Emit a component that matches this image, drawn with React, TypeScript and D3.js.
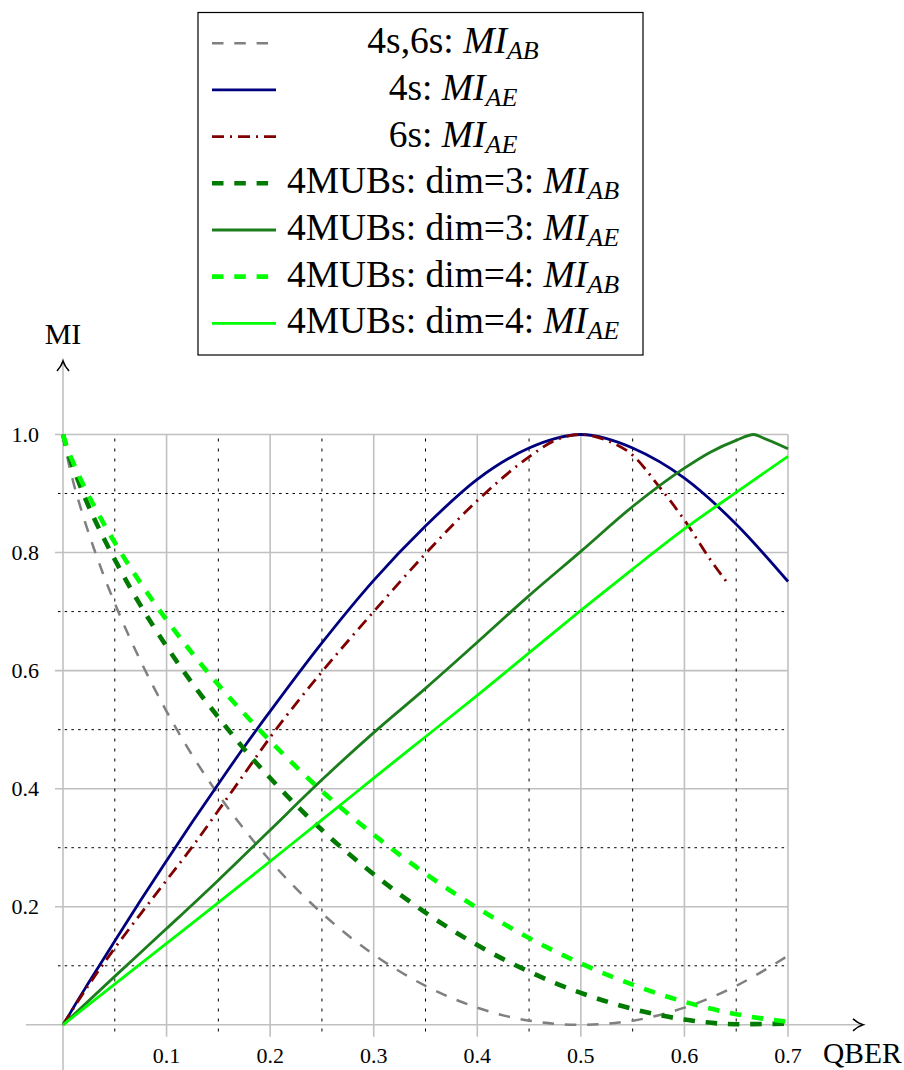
import React from 'react';
import * as d3 from 'd3';

// ---- ticks ----
const qberTicks = [0.1, 0.2, 0.3, 0.4, 0.5, 0.6, 0.7];
const miTicks = [0.2, 0.4, 0.6, 0.8, 1.0];
const qberMinor = [0.05, 0.15, 0.25, 0.35, 0.45, 0.55, 0.65];
const miMinor = [0.1, 0.3, 0.5, 0.7, 0.9];

// ---- series data ----
const qAB = [0, 0.005, 0.01, 0.02, 0.03, 0.04, 0.05, 0.075, 0.1, 0.125, 0.15, 0.175, 0.2, 0.25, 0.3, 0.35, 0.4, 0.45, 0.5, 0.55, 0.6, 0.65, 0.7];
const mi4s6sAB = [1, 0.955, 0.919, 0.859, 0.806, 0.758, 0.714, 0.616, 0.531, 0.456, 0.39, 0.331, 0.278, 0.189, 0.119, 0.066, 0.029, 0.007, 0, 0.007, 0.029, 0.066, 0.117];
const miMub3AB = [1, 0.968, 0.943, 0.898, 0.858, 0.822, 0.788, 0.71, 0.641, 0.578, 0.521, 0.467, 0.418, 0.33, 0.255, 0.19, 0.135, 0.09, 0.054, 0.027, 0.009, 0.001, 0.002];
const miMub4AB = [1, 0.973, 0.952, 0.913, 0.879, 0.847, 0.817, 0.748, 0.686, 0.629, 0.576, 0.527, 0.481, 0.396, 0.322, 0.256, 0.198, 0.147, 0.104, 0.068, 0.039, 0.018, 0.005];

const q4sAE = [0, 0.005, 0.01, 0.025, 0.05, 0.075, 0.1, 0.125, 0.15, 0.175, 0.2, 0.25, 0.3, 0.35, 0.4, 0.45, 0.475, 0.5, 0.525, 0.55, 0.6, 0.65, 0.7];
const mi4sAE = [0, 0.014, 0.029, 0.072, 0.142, 0.211, 0.278, 0.344, 0.408, 0.471, 0.531, 0.647, 0.753, 0.845, 0.924, 0.977, 0.993, 1, 0.993, 0.977, 0.926, 0.848, 0.751];

const q6sAE = [0, 0.025, 0.05, 0.075, 0.1, 0.125, 0.15, 0.175, 0.2, 0.25, 0.3, 0.35, 0.4, 0.45, 0.475, 0.5, 0.525, 0.55, 0.575, 0.6, 0.625, 0.643];
const mi6sAE = [0, 0.068, 0.13, 0.188, 0.245, 0.302, 0.363, 0.425, 0.487, 0.598, 0.7, 0.798, 0.888, 0.962, 0.99, 1, 0.99, 0.965, 0.913, 0.855, 0.788, 0.745];

const qMub3AE = [0, 0.05, 0.1, 0.15, 0.2, 0.25, 0.3, 0.35, 0.4, 0.45, 0.5, 0.55, 0.6, 0.625, 0.65, 0.667, 0.675, 0.7];
const miMub3AE = [0, 0.082, 0.163, 0.245, 0.33, 0.415, 0.495, 0.57, 0.648, 0.727, 0.802, 0.878, 0.943, 0.97, 0.99, 1.0, 0.995, 0.976];

const qMub4AE = [0, 0.05, 0.1, 0.15, 0.2, 0.25, 0.3, 0.35, 0.4, 0.45, 0.5, 0.55, 0.6, 0.65, 0.7];
const miMub4AE = [0, 0.069, 0.138, 0.207, 0.277, 0.347, 0.418, 0.488, 0.558, 0.63, 0.702, 0.772, 0.84, 0.902, 0.963];

const legendPrefixes = ['4s,6s: ', '4s: ', '6s: ', '4MUBs: dim=3: ', '4MUBs: dim=3: ', '4MUBs: dim=4: ', '4MUBs: dim=4: '];
const legendSubs = ['AB', 'AE', 'AE', 'AB', 'AE', 'AB', 'AE'];

// ---- styles (kept apart from data) ----
const seriesStyles = [
  { color: '#808080', width: 2.5, dash: '11.5,10.8' },
  { color: '#00007f', width: 2.8, dash: '' },
  { color: '#800000', width: 2.8, dash: '12,6,2,6' },
  { color: '#007a00', width: 4.6, dash: '11.5,10.8' },
  { color: '#1b7d1b', width: 2.8, dash: '' },
  { color: '#00ff00', width: 4.6, dash: '11.5,10.8' },
  { color: '#00ff00', width: 2.8, dash: '' },
];

const seriesData: [number[], number[]][] = [
  [qAB, mi4s6sAB],
  [q4sAE, mi4sAE],
  [q6sAE, mi6sAE],
  [qAB, miMub3AB],
  [qMub3AE, miMub3AE],
  [qAB, miMub4AB],
  [qMub4AE, miMub4AE],
];

const FONT = '"Liberation Serif", "Times New Roman", serif';

export default function App() {
  const W = 904, H = 1070;
  const x = d3.scaleLinear().domain([0, 0.7]).range([63, 788]);
  const y = d3.scaleLinear().domain([0, 1]).range([1024.8, 434.5]);

  const line = d3.line<[number, number]>()
    .x((d) => x(d[0]))
    .y((d) => y(d[1]))
    .curve(d3.curveMonotoneX);

  const x0 = x(0), y0 = y(0);
  const gridColor = '#c0c0c0';

  const legendRowY = (i: number) => 43.3 + i * 46.67;

  return (
    <svg width={W} height={H} style={{ position: 'absolute', left: 0, top: 0, background: '#fff', fontFamily: FONT }}>
      <rect x={0} y={0} width={W} height={H} fill="#fff" />
      {/* major grid */}
      {qberTicks.map((t) => (
        <line key={'gx' + t} x1={x(t)} x2={x(t)} y1={y(1)} y2={y0 + 12} stroke={gridColor} strokeWidth={1.6} />
      ))}
      {miTicks.map((t) => (
        <line key={'gy' + t} x1={x0 - 8} x2={x(0.7)} y1={y(t)} y2={y(t)} stroke={gridColor} strokeWidth={1.6} />
      ))}
      {/* minor dotted grid */}
      {qberMinor.map((t) => (
        <line key={'mx' + t} x1={x(t)} x2={x(t)} y1={y(1) + 4} y2={y0 + 12} stroke="#000" strokeWidth={1} strokeDasharray="3,7" />
      ))}
      {miMinor.map((t) => (
        <line key={'my' + t} x1={x0 - 5} x2={x(0.7)} y1={y(t)} y2={y(t)} stroke="#000" strokeWidth={1} strokeDasharray="2.5,4.2" />
      ))}
      {/* axes */}
      <line x1={26} x2={861} y1={y0} y2={y0} stroke={gridColor} strokeWidth={1.6} />
      <line x1={x0} x2={x0} y1={H} y2={363} stroke={gridColor} strokeWidth={1.6} />
      <path d={`M${853},${y0 - 6} Q${858},${y0 - 1.5} ${863},${y0} Q${858},${y0 + 1.5} ${853},${y0 + 6}`} fill="none" stroke="#000" strokeWidth={1.6} />
      <path d={`M${x0 - 6},${371} Q${x0 - 1.5},${366} ${x0},${361} Q${x0 + 1.5},${366} ${x0 + 6},${371}`} fill="none" stroke="#000" strokeWidth={1.6} />

      {/* tick labels */}
      {qberTicks.map((t) => (
        <text key={'tx' + t} x={x(t)} y={1063} textAnchor="middle" fontSize={22} fontFamily={FONT}>{t.toFixed(1)}</text>
      ))}
      {miTicks.map((t) => (
        <text key={'ty' + t} x={39} y={y(t) + 7.5} textAnchor="end" fontSize={22} fontFamily={FONT}>{t.toFixed(1)}</text>
      ))}
      <text x={63} y={344} textAnchor="middle" fontSize={30} fontFamily={FONT}>MI</text>
      <text x={823} y={1063} textAnchor="start" fontSize={29.5} fontFamily={FONT}>QBER</text>

      {/* curves */}
      {seriesData.map(([qs, vs], i) => {
        const pts = qs.map((q, k) => [q, vs[k]] as [number, number]);
        const s = seriesStyles[i];
        return (
          <path key={'c' + i} d={line(pts) || ''} fill="none" stroke={s.color} strokeWidth={s.width}
            strokeDasharray={s.dash || undefined} strokeLinejoin="round" />
        );
      })}

      {/* legend */}
      <rect x={198} y={12.5} width={445} height={342.5} fill="#fff" stroke="#000" strokeWidth={1.2} />
      {legendPrefixes.map((p, i) => {
        const s = seriesStyles[i];
        const ly = legendRowY(i);
        return (
          <g key={'lg' + i}>
            <line x1={212} x2={276} y1={ly} y2={ly} stroke={s.color} strokeWidth={s.width}
              strokeDasharray={s.dash || undefined} />
            <text x={453} y={ly + 10} textAnchor="middle" fontSize={37.5} fontFamily={FONT}>
              <tspan>{p}</tspan>
              <tspan fontStyle="italic">MI</tspan>
              <tspan fontStyle="italic" fontSize={26} dy={6}>{legendSubs[i]}</tspan>
            </text>
          </g>
        );
      })}
    </svg>
  );
}
